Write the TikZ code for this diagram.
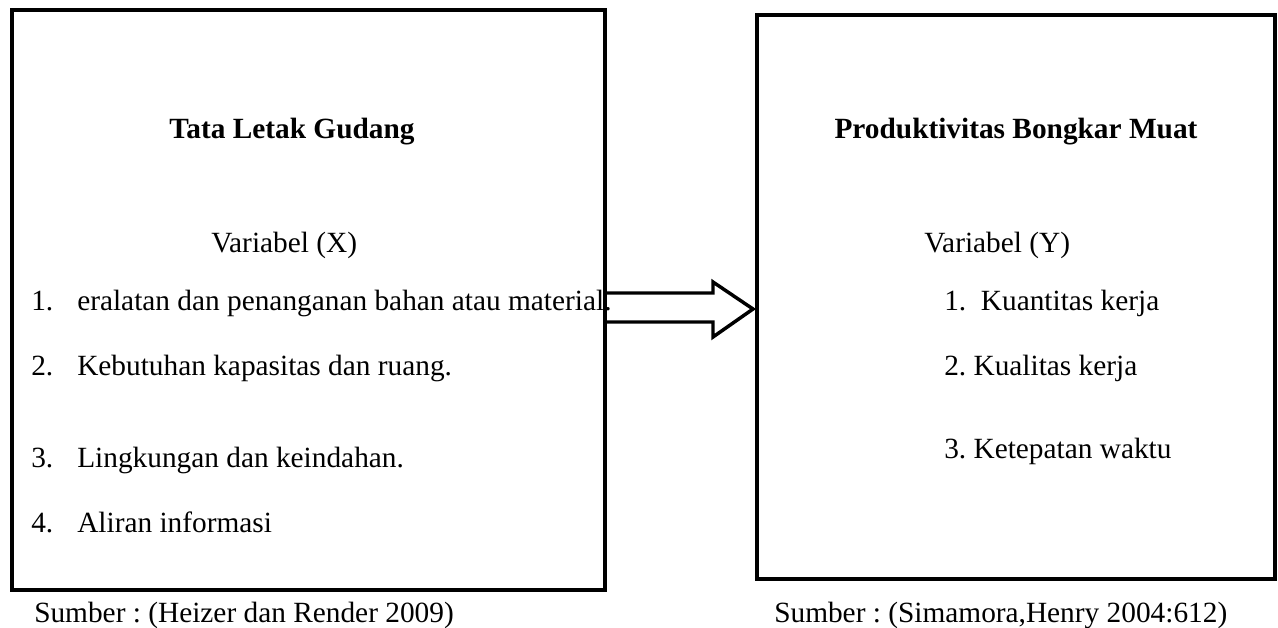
\documentclass[tikz,border=0pt]{standalone}
\usepackage{fontspec}
\setmainfont{Liberation Serif}
\frenchspacing
\begin{document}
\begin{tikzpicture}[x=0.75pt,y=-0.75pt,font=\fontsize{22}{26}\selectfont,
box/.style={line width=3pt,line cap=round},
txt/.style={inner sep=0pt,anchor=base west},
ttl/.style={inner sep=0pt,anchor=base,font=\fontsize{22}{26}\selectfont\bfseries}]
\useasboundingbox(0,0)rectangle(1278,628);
% kotak kiri dan kanan
\draw[box](12,10)rectangle(605,590);
\draw[box](757,15)rectangle(1275,579);
% panah
\draw[line width=2.6pt,line join=miter](605,293)--(713,293)--(713,282)--(753,309)--(713,337)--(713,322)--(605,322);
% variabel X
\node[ttl](tx)at(292,138){Tata Letak Gudang};
\node[txt](vx)at(211,252){Variabel (X)};
\node[txt](n1)at(31,310){1.};\node[txt](x1)at(77,310){eralatan dan penanganan bahan atau material.};
\node[txt](n2)at(31,375){2.};\node[txt](x2)at(77,375){Kebutuhan kapasitas dan ruang.};
\node[txt](n3)at(31,467){3.};\node[txt](x3)at(77,467){Lingkungan dan keindahan.};
\node[txt](n4)at(31,532){4.};\node[txt](x4)at(77,532){Aliran informasi};
% variabel Y
\node[ttl](ty)at(1016,138){Produktivitas Bongkar Muat};
\node[txt](vy)at(924,252){Variabel (Y)};
\node[txt](y1)at(944,310){1.\ \ Kuantitas kerja};
\node[txt](y2)at(944,375){2. Kualitas kerja};
\node[txt](y3)at(944,458){3. Ketepatan waktu};
% sumber
\node[txt](sx)at(34,622){Sumber : (Heizer dan Render 2009)};
\node[txt](sy)at(774,622){Sumber : (Simamora,Henry 2004:612)};
\end{tikzpicture}
\end{document}
